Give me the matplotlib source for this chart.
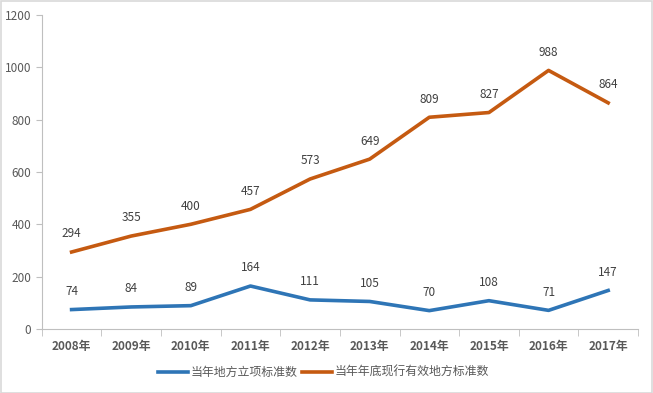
import matplotlib.pyplot as plt
import numpy as np

plt.rcParams['font.family'] = ['Noto Sans CJK SC', 'DejaVu Sans']

years = ['2008年', '2009年', '2010年', '2011年', '2012年', '2013年', '2014年', '2015年', '2016年', '2017年']
new_standards = [74, 84, 89, 164, 111, 105, 70, 108, 71, 147]
valid_standards = [294, 355, 400, 457, 573, 649, 809, 827, 988, 864]
series_names = ['当年地方立项标准数', '当年年底现行有效地方标准数']

fig = plt.figure(figsize=(6.53, 3.93), dpi=100)
fig.patches.append(plt.Rectangle((0.001, 0.001), 0.997, 0.996, transform=fig.transFigure,
                                 fill=False, edgecolor='#d9d9d9', linewidth=1.2))
ax = fig.add_axes([0.064, 0.163, 0.913, 0.799])

x = np.arange(len(years))
ax.plot(x, new_standards, color='#2E75B6', linewidth=2.6, label=series_names[0])
ax.plot(x, valid_standards, color='#C55A11', linewidth=2.6, label=series_names[1])

for xi, v in zip(x, new_standards):
    ax.annotate(str(v), (xi, v), xytext=(0, 13), textcoords='offset points',
                ha='center', va='center', fontsize=8.5, color='#404040')
for xi, v in zip(x, valid_standards):
    ax.annotate(str(v), (xi, v), xytext=(0, 13), textcoords='offset points',
                ha='center', va='center', fontsize=8.5, color='#404040')

ax.set_xlim(-0.5, len(years) - 0.5)
ax.set_ylim(0, 1200)
ax.set_yticks(range(0, 1201, 200))
ax.tick_params(axis='y', colors='#bfbfbf', labelcolor='#595959', labelsize=8.5, length=4, direction='out')
ax.set_xticks(x)
ax.set_xticklabels(years, fontsize=8.5, fontweight='bold', color='#595959')
ax.tick_params(axis='x', length=0, pad=8)
ax.set_xticks(np.arange(-0.5, len(years)), minor=True)
ax.tick_params(axis='x', which='minor', length=5, color='#bfbfbf', direction='out')

for s in ['top', 'right']:
    ax.spines[s].set_visible(False)
for s in ['left', 'bottom']:
    ax.spines[s].set_color('#bfbfbf')

handles, labels = ax.get_legend_handles_labels()
fig.legend(handles, labels, loc='center', bbox_to_anchor=(0.495, 0.052), ncol=2, frameon=False,
           fontsize=8.6, handlelength=2.5, columnspacing=0.4, handletextpad=0.2,
           labelcolor='#595959')

fig.savefig('out.png', dpi=100)
